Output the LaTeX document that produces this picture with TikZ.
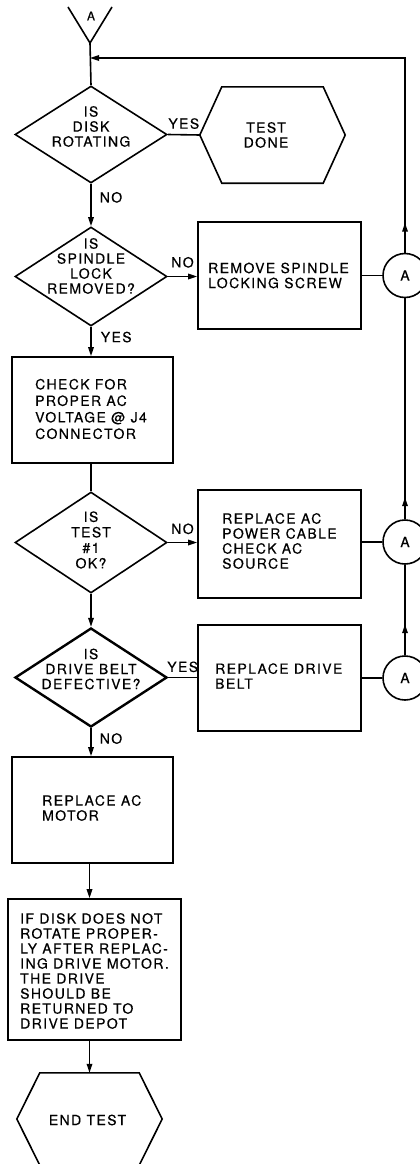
\documentclass[tikz,border=0pt]{standalone}
\usepackage{fontspec}
\setmainfont{TeX Gyre Heros}[LetterSpace=10,FakeBold=0.4]
\usetikzlibrary{shapes.geometric,arrows.meta,calc}
\newcommand\hexdraw[2]{\draw[ln] (#1.west) -- ([xshift=#2]#1.north west) -- ([xshift=-#2]#1.north east) -- (#1.east) -- ([xshift=-#2]#1.south east) -- ([xshift=#2]#1.south west) -- cycle;}
\begin{document}
\begin{tikzpicture}[x=1pt,y=-1pt,
  every node/.style={font=\fontsize{14pt}{15pt}\selectfont},
  ln/.style={line width=1.6pt},
  arr/.style={ln,-{Triangle[length=9pt,width=5.5pt]}},
  dia/.style={draw,ln,shape=diamond,inner sep=0pt,minimum width=152pt},
  boxn/.style={draw,ln,rectangle,inner sep=0pt},
  hexn/.style={rectangle,inner sep=0pt},
  txt/.style={inner sep=0pt,align=left,anchor=west},
  ctxt/.style={inner sep=0pt,align=center},
  lab/.style={inner sep=0pt},
  conn/.style={draw,ln,circle,inner sep=0pt,minimum size=44pt}
]
\useasboundingbox (0,0) rectangle (420,1164);

% entry connector
\coordinate (vt) at (90,43);
\coordinate (vl) at (68,7);
\coordinate (vr) at (112,7);
\draw[ln] (vl) -- (vt) -- (vr);
\node[lab,font=\fontsize{12pt}{12pt}\selectfont] (va) at (91,16) {A};
\coordinate (jn) at (90,58);

% decision 1
\node[dia,minimum height=97pt] (d1) at (91,134.5) {};
\node[ctxt] (d1t) at (91,126.5) {IS\\DISK\\ROTATING};
\draw[ln] (vt) -- (d1.north);

\node[hexn,minimum width=145pt,minimum height=96pt] (h1) at (272.5,135) {};
\hexdraw{h1}{22pt}
\node[ctxt] (h1t) at (266,135) {TEST\\DONE};
\draw[ln] (d1.east) -- (h1.west) node[lab,midway,above=5pt] (l1) {YES};

% decision 2
\node[dia,minimum height=99pt] (d2) at (91,276.5) {};
\node[ctxt] (d2t) at (91,266) {IS\\SPINDLE\\LOCK\\REMOVED?};
\draw[arr] (d1.south) -- (d2.north) node[lab,pos=0.32,right=8pt] (l2) {NO};

\node[boxn,minimum width=163pt,minimum height=107pt] (b1) at (279.5,275.5) {};
\node[txt] (b1t) at (208,275.5) {REMOVE SPINDLE\\LOCKING SCREW};
\draw[arr] (d2.east) -- (d2.east -| b1.west) node[lab,midway,above=8pt] (l3) {NO};

\node[conn] (c1) at (405,275.5) {A};
\draw[ln] (b1.east) -- (c1.west);
\draw[arr] (c1.north) |- (jn);
\draw[arr] (c1.north) -- ++(0,-30);

% check box
\node[boxn,minimum width=161pt,minimum height=106pt] (b2) at (92.5,410) {};
\node[txt,font=\fontsize{14pt}{16.5pt}\selectfont] (b2t) at (35,409) {CHECK FOR\\PROPER AC\\VOLTAGE @ J4\\CONNECTOR};
\draw[arr] (d2.south) -- (d2.south |- b2.north) node[lab,pos=0.35,right=9pt] (l4) {YES};

% decision 3
\node[dia,minimum height=101pt] (d3) at (91,542.5) {};
\node[ctxt,font=\fontsize{14pt}{15.5pt}\selectfont] (d3t) at (91,540) {IS\\TEST\\\#1\\OK?};
\draw[ln] (b2.south -| d3.north) -- (d3.north);

\node[boxn,minimum width=163pt,minimum height=108pt] (b3) at (279.5,544) {};
\node[txt] (b3t) at (222,541) {REPLACE AC\\POWER CABLE\\CHECK AC\\SOURCE};
\draw[arr] (d3.east) -- (d3.east -| b3.west) node[lab,midway,above=7.5pt] (l5) {NO};

\node[conn] (c2) at (405,542) {A};
\draw[ln] (c2.west -| b3.east) -- (c2.west);
\draw[ln] (c2.north) -- (c1.south);
\draw[arr] (c2.north) -- ++(0,-22);

% decision 4
\node[dia,minimum height=99pt,line width=2.4pt] (d4) at (91,677.5) {};
\node[ctxt] (d4t) at (91,669) {IS\\DRIVE BELT\\DEFECTIVE?};
\draw[arr] (d3.south) -- (d4.north);

\node[boxn,minimum width=163pt,minimum height=106pt] (b4) at (279.5,678) {};
\node[txt] (b4t) at (215,676) {REPLACE DRIVE\\BELT};
\draw[ln] (d4.east) -- (d4.east -| b4.west) node[lab,midway,above=4.5pt] (l6) {YES};

\node[conn] (c3) at (405,678) {A};
\draw[ln] (b4.east) -- (c3.west);
\draw[ln] (c3.north) -- (c2.south);
\draw[arr] (c3.north) -- ++(0,-31);

% motor box
\node[boxn,minimum width=161pt,minimum height=106pt] (b5) at (92.5,810) {};
\node[txt] (b5t) at (42,808) {REPLACE AC\\MOTOR};
\draw[arr] (d4.south) -- (d4.south |- b5.north) node[lab,pos=0.37,right=8pt] (l7) {NO};

% final box
\node[hexn,minimum width=145pt,minimum height=92pt] (h2) at (89.5,1119) {};
\node[boxn,minimum width=173pt,minimum height=141pt] (b6) at (94.5,969.5) {};
\node[txt] (b6t) at (20,971) {IF DISK DOES NOT\\ROTATE PROPER-\\LY AFTER REPLAC-\\ING DRIVE MOTOR.\\THE DRIVE\\SHOULD BE\\RETURNED TO\\DRIVE DEPOT};
\draw[arr] (b5.south -| h2.north) -- (b6.north -| h2.north);

\hexdraw{h2}{23pt}
\node[ctxt] (h2t) at (87.5,1120) {END TEST};
\draw[arr] (b6.south -| h2.north) -- (h2.north);
\end{tikzpicture}
\end{document}
